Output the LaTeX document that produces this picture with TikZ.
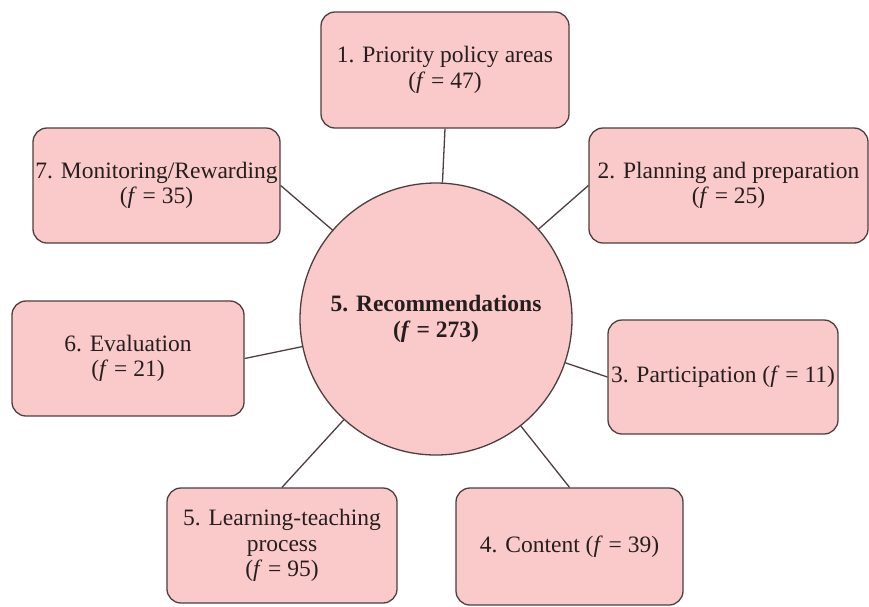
\documentclass[tikz,border=0pt]{standalone}
\usepackage{fontspec}
\setmainfont{Liberation Serif}
\definecolor{pinkfill}{RGB}{250,202,202}
\definecolor{edge}{RGB}{78,62,62}
\definecolor{txt}{RGB}{38,30,30}
\tikzset{
  topic/.style={draw=edge, fill=pinkfill, rounded corners=14pt, line width=1.3pt,
    align=center, text=txt, inner sep=0pt,
    font=\fontsize{23.5}{25.5}\selectfont},
  hub/.style={circle, draw=edge, fill=pinkfill, line width=1.3pt,
    minimum size=272pt, inner sep=0pt, align=center, text=txt,
    font=\fontsize{23.5}{26}\selectfont\bfseries},
  link/.style={draw=edge, line width=1.3pt}
}
\begin{document}
\begin{tikzpicture}[x=1pt,y=-1pt]
\useasboundingbox (0,0) rectangle (869,606);
\clip (0,0) rectangle (869,606);
\fill[white] (0,0) rectangle (869,606);

% central theme
\node[hub] (hub) at (436,319) {5. Recommendations\\(\textit{f} = 273)};

% sub-themes
\node[topic, minimum width=248pt, minimum height=116pt] (p1) at (445,70)
  {1. Priority policy areas\\(\textit{f} = 47)};
\node[topic, minimum width=279pt, minimum height=115pt] (p2) at (728.5,185.5)
  {2. Planning and preparation\\(\textit{f} = 25)};
\node[topic, minimum width=230pt, minimum height=114pt] (p3) at (723,377)
  {3. Participation (\textit{f} = 11)};
\node[topic, minimum width=227pt, minimum height=117pt] (p4) at (569.5,546.5)
  {4. Content (\textit{f} = 39)};
\node[topic, minimum width=230pt, minimum height=115pt] (p5) at (282,545.5)
  {5. Learning-teaching\\process\\(\textit{f} = 95)};
\node[topic, minimum width=232pt, minimum height=115pt] (p6) at (128,358.5)
  {6. Evaluation\\(\textit{f} = 21)};
\node[topic, minimum width=247pt, minimum height=115pt] (p7) at (156.5,185.5)
  {7. Monitoring/Rewarding\\(\textit{f} = 35)};

% spokes
\draw[link] (p1.south) -- (hub);
\draw[link] (p2.west) -- (hub);
\draw[link] (p3.west) -- (hub);
\draw[link] (p4.north) -- (hub);
\draw[link] (p5.north) -- (hub);
\draw[link] (p6.east) -- (hub);
\draw[link] (p7.east) -- (hub);
\end{tikzpicture}
\end{document}
